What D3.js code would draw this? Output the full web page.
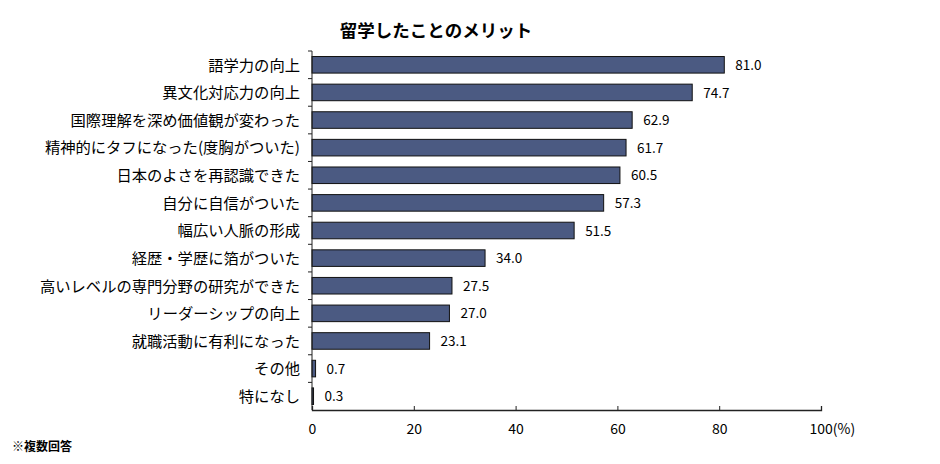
<!DOCTYPE html>
<html>
<head>
<meta charset="utf-8">
<script src="https://cdn.jsdelivr.net/npm/d3@7"></script>
<style>
  body { margin: 0; background: #fff; }
  svg text { font-family: "Noto Sans CJK JP", "Noto Sans", sans-serif; fill: #000; }
</style>
</head>
<body>
<svg id="chart" width="940" height="464"></svg>
<script>
const categories = [
  "語学力の向上", "異文化対応力の向上", "国際理解を深め価値観が変わった",
  "精神的にタフになった(度胸がついた)", "日本のよさを再認識できた", "自分に自信がついた",
  "幅広い人脈の形成", "経歴・学歴に箔がついた", "高いレベルの専門分野の研究ができた",
  "リーダーシップの向上", "就職活動に有利になった", "その他", "特になし"
];
const values = [81.0, 74.7, 62.9, 61.7, 60.5, 57.3, 51.5, 34.0, 27.5, 27.0, 23.1, 0.7, 0.3];
const ticks = [0, 20, 40, 60, 80, 100];

const plotL = 312, plotR = 821, plotT = 51, plotB = 410;
const svg = d3.select("#chart");

const x = d3.scaleLinear().domain([0, 100]).range([plotL, plotR]);
const y = d3.scaleBand().domain(categories).range([plotT, plotB]).paddingInner(0.4).paddingOuter(0.2);

svg.append("text")
   .attr("x", 436).attr("y", 37)
   .attr("text-anchor", "middle")
   .style("font-size", "17.5px").style("font-weight", "bold")
   .text("留学したことのメリット");

svg.selectAll("rect.bar")
   .data(values)
   .enter()
   .append("rect")
   .attr("class", "bar")
   .attr("x", x(0))
   .attr("y", (d, i) => y(categories[i]))
   .attr("width", d => x(d) - x(0))
   .attr("height", y.bandwidth())
   .attr("fill", "#4b5a82")
   .attr("stroke", "#111")
   .attr("stroke-width", 1);

svg.selectAll("text.val")
   .data(values)
   .enter()
   .append("text")
   .attr("class", "val")
   .attr("x", d => x(d) + 11)
   .attr("y", (d, i) => y(categories[i]) + y.bandwidth() / 2)
   .attr("dy", "0.38em")
   .style("font-size", "13.5px")
   .text(d => d.toFixed(1));

// category labels
svg.selectAll("text.cat")
   .data(categories)
   .enter()
   .append("text")
   .attr("class", "cat")
   .attr("x", plotL - 12)
   .attr("y", d => y(d) + y.bandwidth() / 2)
   .attr("dy", "0.38em")
   .attr("text-anchor", "end")
   .style("font-size", "15.3px")
   .text(d => d);

// y axis line + boundary ticks
const step = y.step();
const bounds = d3.range(categories.length).map(i => plotT + i * step);
svg.append("line")
   .attr("x1", plotL).attr("x2", plotL)
   .attr("y1", plotT).attr("y2", plotB)
   .attr("stroke", "#222");
svg.selectAll("line.ytick")
   .data(bounds)
   .enter()
   .append("line")
   .attr("class", "ytick")
   .attr("x1", plotL - 4).attr("x2", plotL)
   .attr("y1", d => d).attr("y2", d => d)
   .attr("stroke", "#222");

// x axis
const xAxis = d3.axisBottom(x).tickValues(ticks).tickSize(-4).tickPadding(14).tickFormat(d3.format("d"));
const gx = svg.append("g").attr("transform", `translate(0,${plotB})`).call(xAxis);
gx.select(".domain").attr("stroke", "#222").attr("stroke-width", 1.3);
gx.selectAll(".tick line").attr("stroke", "#222");
gx.selectAll(".tick text").style("font-size", "14px").attr("fill", "#000")
  .style("font-family", '"Noto Sans CJK JP", sans-serif');
gx.selectAll(".tick").filter(d => d === 100).select("text")
  .attr("text-anchor", "start").attr("dx", "-12px")
  .text("100(%)");

svg.append("text")
   .attr("x", 12).attr("y", 451)
   .style("font-size", "12px").style("font-weight", "bold")
   .text("※複数回答");
</script>
</body>
</html>
